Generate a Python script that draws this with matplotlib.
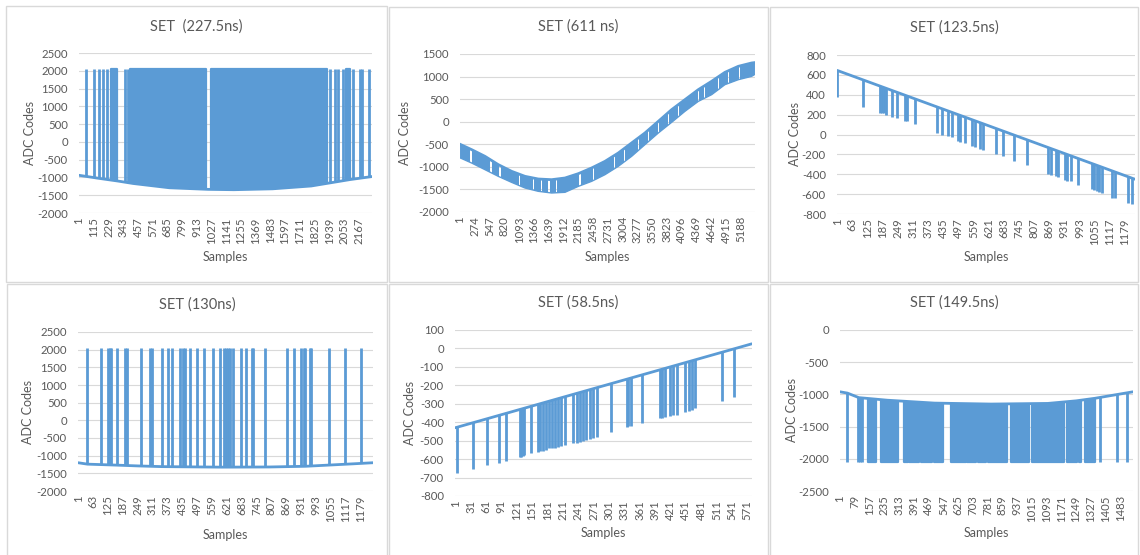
import numpy as np
import matplotlib
matplotlib.use("Agg")
import matplotlib.pyplot as plt
from matplotlib.patches import Polygon, Rectangle

plt.rcParams['font.family'] = ['Lato', 'DejaVu Sans']

W, H = 1140, 555
BLUE = '#5b9bd5'
TXT = '#595959'
GRID = '#d9d9d9'
LW = 2.0

# ---------------- data ----------------
# SET (227.5ns): baseline with saturating positive spikes
p1_n = 2270
p1_base_x = [1, 164, 300, 420, 700, 1000, 1200, 1500, 1800, 1950, 2100, 2270]
p1_base_y = [-940, -1030, -1100, -1170, -1290, -1335, -1345, -1320, -1240, -1150, -1060, -975]
p1_spike_x = [55, 120, 156, 184, 216, 358, 383, 1942, 1981, 2004, 2043, 2127, 2174, 2192, 2249]
p1_band_start = [249, 396, 1022, 2071]
p1_band_end = [293, 983, 1921, 2102]
p1_sat = 2047

# SET (611 ns): sinusoidal band of dense small negative glitches
p2_n = 5450
p2_x = [1, 216, 462, 708, 954, 1201, 1447, 1693, 1940, 2186, 2432, 2679, 2925,
        3171, 3417, 3664, 3910, 4156, 4403, 4649, 4895, 5142, 5388, 5450]
p2_top = [-500, -619, -767, -951, -1099, -1210, -1269, -1284, -1247, -1151, -1025, -878, -693,
          -471, -250, 8, 267, 488, 710, 895, 1094, 1227, 1301, 1310]
p2_bot = [-800, -915, -1062, -1210, -1343, -1468, -1542, -1579, -1564, -1432, -1321, -1173, -988,
          -767, -508, -250, -14, 230, 451, 599, 821, 931, 1005, 1050]
p2_gap_x = [203, 573, 739, 1108, 1354, 1508, 1644, 1785, 2217, 2463, 2863, 3048, 3294, 3479,
            3664, 3848, 4033, 4403, 4526, 4772, 4957, 5172]

# SET (123.5ns): falling ramp with negative spikes
p3_n = 1220
p3_base_x = [1, 1220]
p3_base_y = [645, -450]
p3_spike_x = [2, 105, 177, 184, 192, 202, 225, 248, 278, 289, 320, 410, 429, 453, 471, 496, 505,
              526, 555, 566, 586, 600, 651, 680, 724, 780, 866, 877, 898, 905, 932, 943, 957, 988,
              1043, 1054, 1064, 1075, 1085, 1126, 1137, 1193, 1207]
p3_spike_tip = [375, 281, 215, 218, 220, 197, 174, 164, 137, 135, 107, 13, -3, -20, -30, -65, -72,
                -87, -118, -125, -145, -152, -194, -221, -271, -311, -398, -408, -418, -425, -455,
                -465, -472, -505, -552, -560, -568, -575, -589, -635, -640, -685, -695]

# SET (130ns): baseline with saturating positive spikes
p4_n = 1230
p4_base_x = [1, 40, 150, 250, 350, 600, 800, 950, 1050, 1150, 1230]
p4_base_y = [-1200, -1240, -1265, -1290, -1310, -1325, -1320, -1300, -1265, -1230, -1200]
p4_spike_x = [36, 97, 126, 133, 140, 164, 197, 204, 264, 302, 309, 352, 374, 391, 424, 438, 448,
              467, 495, 526, 562, 594, 611, 618, 625, 635, 647, 679, 703, 725, 732, 782, 870, 902,
              931, 941, 949, 966, 973, 1045, 1115, 1182]
p4_sat = 2047

# SET (58.5ns): rising ramp with negative spikes
p5_n = 580
p5_base_x = [1, 580]
p5_base_y = [-430, 25]
p5_spike_x = [4, 35, 63, 86, 100, 127, 130, 133, 136, 149, 162, 166, 172, 179, 185, 189, 195, 202,
              208, 215, 231, 238, 244, 251, 257, 264, 270, 277, 306, 336, 339, 345, 365, 401, 404,
              411, 421, 427, 434, 450, 457, 463, 470, 522, 545]
p5_spike_tip = [-677, -655, -632, -619, -610, -590, -587, -585, -578, -569, -560, -558, -554, -550,
                -542, -540, -538, -533, -530, -524, -515, -511, -505, -500, -496, -492, -487, -482,
                -451, -424, -422, -420, -406, -379, -377, -373, -366, -363, -361, -343, -340, -334,
                -325, -283, -265]

# SET (149.5ns): baseline with saturating negative spikes
p6_n = 1550
p6_base_x = [1, 40, 100, 250, 500, 800, 1100, 1250, 1350, 1450, 1550]
p6_base_y = [-960, -980, -1050, -1090, -1135, -1150, -1140, -1100, -1060, -1010, -960]
p6_spike_x = [36, 94, 106, 117, 1378, 1466, 1518]
p6_band_start = [147, 217, 340, 367, 428, 499, 586, 674, 732, 785, 903, 1017, 1202, 1263, 1298]
p6_band_end = [191, 305, 358, 416, 486, 543, 666, 718, 771, 885, 1000, 1184, 1255, 1277, 1351]
p6_sat = -2048


# ---------------- drawing helpers ----------------
def fig_rect(l, t, r, b):
    return [l / W, 1 - b / H, (r - l) / W, (b - t) / H]


def panel(fig, border, plot, title, title_y, ylab_x, xlab_y, yticks, xstep, n):
    l, t, r, b = border
    fig.add_artist(Rectangle((l / W, 1 - b / H), (r - l) / W, (b - t) / H,
                             transform=fig.transFigure, fill=False, ec=GRID, lw=1.0))
    ax = fig.add_axes(fig_rect(*plot))
    ax.set_ylim(yticks[0], yticks[-1])
    ax.set_xlim(0.5, n + 0.5)
    ax.set_yticks(yticks)
    ax.set_yticklabels([str(v) for v in yticks])
    xt = np.arange(1, n + 1, xstep)
    ax.set_xticks(xt)
    ax.set_xticklabels([str(v) for v in xt], rotation=90)
    ax.tick_params(length=0, labelsize=8.2, colors=TXT)
    ax.tick_params(axis='y', pad=8)
    ax.tick_params(axis='x', pad=3)
    for s in ax.spines.values():
        s.set_visible(False)
    ax.yaxis.grid(True, color=GRID, lw=0.8)
    ax.set_axisbelow(True)
    pl, pt, pr, pb = plot
    cx = (l + r) / 2
    fig.text(cx / W, 1 - title_y / H, title, ha='center', va='center',
             fontsize=10.5, color=TXT)
    fig.text(ylab_x / W, 1 - ((pt + pb) / 2) / H, 'ADC Codes', rotation=90,
             ha='center', va='center', fontsize=9, color=TXT)
    fig.text(((pl + pr) / 2) / W, 1 - xlab_y / H, 'Samples', ha='center',
             va='center', fontsize=9, color=TXT)
    return ax


def side_region(ax, bx, by, up):
    # region on one side of the baseline, used to clip spikes so they start on it
    far = 1e5 if up else -1e5
    verts = [(bx[0] - 1000, by[0])] + list(zip(bx, by)) + [(bx[-1] + 1000, by[-1]),
                                                         (bx[-1] + 1000, far), (bx[0] - 1000, far)]
    return Polygon(verts, closed=True, transform=ax.transData)


def baseline(ax, bx, by):
    ax.plot(bx, by, color=BLUE, lw=LW, solid_joinstyle='round', solid_capstyle='round', zorder=3)


def spikes(ax, bx, by, xs, tips, up):
    clip = side_region(ax, bx, by, up)
    far = -1e5 if up else 1e5
    vl = ax.vlines(xs, far, tips, color=BLUE, lw=LW, zorder=2)
    vl.set_clip_path(clip)


def bands(ax, bx, by, starts, ends, level, up):
    clip = side_region(ax, bx, by, up)
    far = -1e5 if up else 1e5
    for s, e in zip(starts, ends):
        poly = ax.fill_between([s, e], far, level, color=BLUE, ec=BLUE, lw=LW * 0.8, zorder=2)
        poly.set_clip_path(clip)


fig = plt.figure(figsize=(W / 100, H / 100), dpi=100)
fig.patch.set_facecolor('white')

# SET (227.5ns)
ax1 = panel(fig, (6, 6, 387, 282), (79, 53, 372, 213), 'SET  (227.5ns)', 27, 30, 257,
            list(range(-2000, 2501, 500)), 114, p1_n)
baseline(ax1, p1_base_x, p1_base_y)
spikes(ax1, p1_base_x, p1_base_y, p1_spike_x, [p1_sat] * len(p1_spike_x), True)
bands(ax1, p1_base_x, p1_base_y, p1_band_start, p1_band_end, p1_sat, True)

# SET (611 ns)
ax2 = panel(fig, (389, 7, 768, 282), (460, 54, 755, 212), 'SET (611 ns)', 27, 405, 257,
            list(range(-2000, 1501, 500)), 273, p2_n)
band_area = ax2.fill_between(p2_x, p2_bot, p2_top, color='none', lw=0)
band_clip = Polygon(band_area.get_paths()[0].vertices, closed=True, transform=ax2.transData)
gap_w = 10
seg_start = [1] + [g + gap_w for g in p2_gap_x]
seg_end = [g - gap_w for g in p2_gap_x] + [p2_n]
for s, e in zip(seg_start, seg_end):
    seg = ax2.fill_between([s, e], -3000, 3000, color=BLUE, lw=0, zorder=2)
    seg.set_clip_path(band_clip)
ax2.plot(p2_x, p2_top, color=BLUE, lw=LW, solid_joinstyle='round', zorder=3)
ax2.plot(p2_x, p2_bot, color=BLUE, lw=LW * 0.5, solid_joinstyle='round', zorder=1)

# SET (123.5ns)
ax3 = panel(fig, (770, 7, 1138, 282), (837, 55, 1135, 214), 'SET (123.5ns)', 28, 795, 257,
            list(range(-800, 801, 200)), 62, p3_n)
baseline(ax3, p3_base_x, p3_base_y)
spikes(ax3, p3_base_x, p3_base_y, p3_spike_x, p3_spike_tip, False)

# SET (130ns)
ax4 = panel(fig, (7, 284, 387, 560), (78, 332, 373, 491), 'SET (130ns)', 305, 28, 535,
            list(range(-2000, 2501, 500)), 62, p4_n)
baseline(ax4, p4_base_x, p4_base_y)
spikes(ax4, p4_base_x, p4_base_y, p4_spike_x, [p4_sat] * len(p4_spike_x), True)

# SET (58.5ns)
ax5 = panel(fig, (389, 284, 768, 560), (455, 330, 752, 496), 'SET (58.5ns)', 303, 410, 533,
            list(range(-800, 101, 100)), 30, p5_n)
baseline(ax5, p5_base_x, p5_base_y)
spikes(ax5, p5_base_x, p5_base_y, p5_spike_x, p5_spike_tip, False)

# SET (149.5ns)
ax6 = panel(fig, (770, 284, 1138, 560), (840, 330, 1133, 491), 'SET (149.5ns)', 303, 792, 533,
            list(range(-2500, 1, 500)), 78, p6_n)
baseline(ax6, p6_base_x, p6_base_y)
spikes(ax6, p6_base_x, p6_base_y, p6_spike_x, [p6_sat] * len(p6_spike_x), False)
bands(ax6, p6_base_x, p6_base_y, p6_band_start, p6_band_end, p6_sat, False)

fig.savefig('out.png', dpi=100, facecolor='white')
